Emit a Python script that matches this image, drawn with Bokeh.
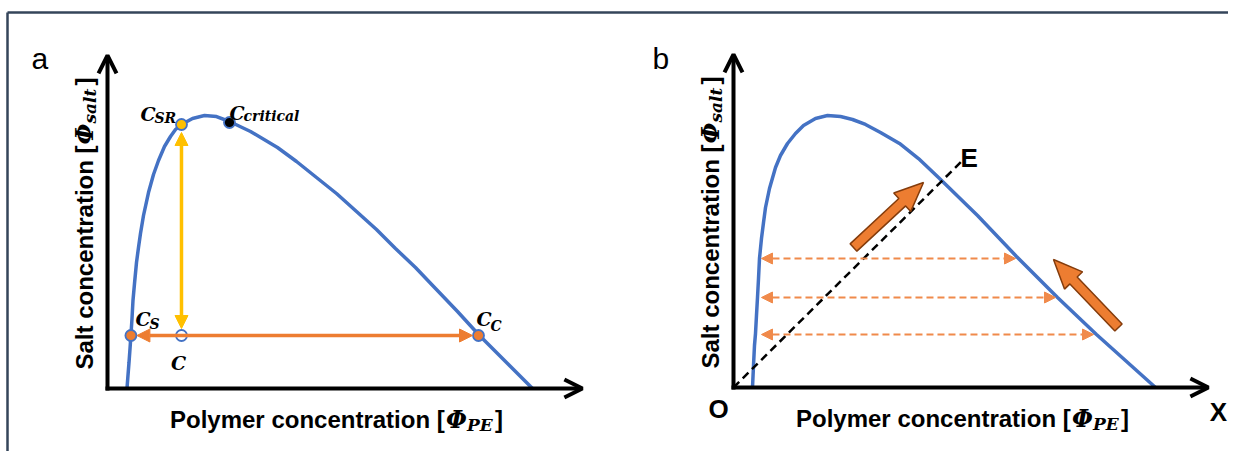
import numpy as np
from bokeh.plotting import figure
from bokeh.models import Range1d, Arrow, NormalHead, OpenHead, ColumnDataSource
from bokeh.core.properties import value
from bokeh.embed import file_html
from bokeh.resources import INLINE

# ---------------- data (normalised schematic units) ----------------
# panel a: binodal curve
binodal_a_pe = [0.0460, 0.0483, 0.0507, 0.0531, 0.0552, 0.0578, 0.0601, 0.0637, 0.0684, 0.0731,
                0.0778, 0.0849, 0.0967, 0.1085, 0.1203, 0.1344, 0.1486, 0.1604, 0.1745, 0.2005,
                0.2288, 0.2571, 0.2877, 0.3373, 0.4009, 0.4458, 0.4929, 0.5401, 0.5873, 0.6344,
                0.6792, 0.7264, 0.7736, 0.8255, 0.8750, 0.9387, 1.0024]
binodal_a_salt = [0.0, 0.0476, 0.0952, 0.1465, 0.1941, 0.2564, 0.3223, 0.3846, 0.4615, 0.5165,
                  0.5678, 0.6337, 0.7179, 0.7839, 0.8352, 0.8864, 0.9231, 0.9487, 0.9670, 0.9890,
                  1.0, 0.9963, 0.9780, 0.9414, 0.8828, 0.8315, 0.7729, 0.7143, 0.6484, 0.5824,
                  0.5128, 0.4432, 0.3663, 0.2821, 0.1978, 0.0989, 0.0]
# panel b: binodal curve
binodal_b_pe = [0.0448, 0.0472, 0.0495, 0.0519, 0.0542, 0.0566, 0.0590, 0.0613, 0.0660, 0.0708,
                0.0755, 0.0849, 0.0991, 0.1108, 0.1274, 0.1462, 0.1651, 0.1934, 0.2217, 0.2524,
                0.2807, 0.3113, 0.3467, 0.3915, 0.4363, 0.4835, 0.5755, 0.6675, 0.7642, 0.8561,
                0.9953]
binodal_b_salt = [0.0, 0.0806, 0.1538, 0.1978, 0.2637, 0.3297, 0.3993, 0.4725, 0.5458, 0.6044,
                  0.6593, 0.7289, 0.8059, 0.8498, 0.8938, 0.9304, 0.9597, 0.9853, 0.9963, 0.9927,
                  0.9817, 0.9634, 0.9341, 0.8938, 0.8388, 0.7692, 0.6300, 0.4799, 0.3297, 0.1941,
                  0.0]

# panel a: marked compositions
point_names = ["C_S", "C", "C_C", "C_SR", "C_critical"]
point_pe = [0.0552, 0.1745, 0.875, 0.1745, 0.2877]
point_salt = [0.1941, 0.1941, 0.1941, 0.967, 0.9744]
label_main = ["C", "C", "C", "C", "C"]
label_sub = ["S", "", "C", "SR", "critical"]

# panel b: tie lines, dilution line, direction arrows
tie_salt = [0.4725, 0.3297, 0.1941]
tie_pe_left = [0.066, 0.066, 0.066]
tie_pe_right = [0.6651, 0.7594, 0.8491]
dilution_pe = [0.0, 0.5401]
dilution_salt = [0.0, 0.8315]
block_tail_pe = [0.283, 0.908]
block_tail_salt = [0.5128, 0.2198]
block_tip_pe = [0.4481, 0.7547]
block_tip_salt = [0.7509, 0.4689]

x_label_parts = ["Polymer concentration [", "\u03a6", "PE", "]"]
y_label_parts = ["Salt concentration [", "\u03a6", "salt", "]"]
panel_letters = ["a", "b"]

# ---------------- layout constants ----------------
W, H = 1228, 451
SX, SY = 424.0, 273.0
ORIGIN = {"a": (107.0, 388.0), "b": (733.0, 387.0)}
AXIS_PE_MAX, AXIS_SALT_MAX = 1.12, 1.22
RN = {"a": "default", "b": "b"}

BLUE = "#4472C4"
ORANGE = "#ED7D31"
YELLOW = "#FFC000"
BROWN = "#843C0C"
DASH_ORANGE = "#F08A4B"
SANS = value("Liberation Sans")
SERIF = value("DejaVu Serif")


def ranges(panel):
    ox, oy = ORIGIN[panel]
    return Range1d(-ox / SX, (W - ox) / SX), Range1d((oy - H) / SY, oy / SY)


def to_data(panel, lx, ly):
    ox, oy = ORIGIN[panel]
    return (lx - ox) / SX, (oy - ly) / SY


def shorten(x0, y0, x1, y1, d0, d1):
    dx, dy = (x1 - x0) * SX, (y1 - y0) * SY
    L = np.hypot(dx, dy)
    ux, uy = dx / L, dy / L
    return (x0 + ux * d0 / SX, y0 + uy * d0 / SY, x1 - ux * d1 / SX, y1 - uy * d1 / SY)


def block_arrow(tx, ty, hx, hy, shaft=10.0, head_w=25.0, head_l=29.0):
    dx, dy = (hx - tx) * SX, (hy - ty) * SY
    L = np.hypot(dx, dy)
    ux, uy = dx / L, dy / L
    nx, ny = -uy, ux
    bx, by = dx - ux * head_l, dy - uy * head_l
    pts = [
        (nx * shaft / 2, ny * shaft / 2),
        (bx + nx * shaft / 2, by + ny * shaft / 2),
        (bx + nx * head_w / 2, by + ny * head_w / 2),
        (dx, dy),
        (bx - nx * head_w / 2, by - ny * head_w / 2),
        (bx - nx * shaft / 2, by - ny * shaft / 2),
        (-nx * shaft / 2, -ny * shaft / 2),
    ]
    return [tx + q[0] / SX for q in pts], [ty + q[1] / SY for q in pts]


xa, ya = ranges("a")
xb, yb = ranges("b")
p = figure(width=W, height=H, x_range=xa, y_range=ya, output_backend="svg",
           toolbar_location=None, min_border=0, x_axis_type=None, y_axis_type=None,
           outline_line_color=None, background_fill_color="white", border_fill_color="white")
p.extra_x_ranges = {"b": xb}
p.extra_y_ranges = {"b": yb}
p.xgrid.visible = False
p.ygrid.visible = False

# frame lines of the figure (top and left)
bx0, by0 = to_data("a", 7, 12)
bx1, _ = to_data("a", W, 12)
_, by1 = to_data("a", 7, H)
p.line([bx0, bx1], [by0, by0], line_color="#34455A", line_width=2.5)
p.line([bx0, bx0], [by0, by1], line_color="#34455A", line_width=2.5)

for panel in ["a", "b"]:
    kw = dict(x_range_name=RN[panel], y_range_name=RN[panel])
    # axes with arrow heads
    p.add_layout(Arrow(end=OpenHead(size=18, line_width=4, line_color="black"),
                       x_start=0, y_start=-2 / SY, x_end=0, y_end=AXIS_SALT_MAX,
                       line_width=4, line_color="black", **kw))
    p.add_layout(Arrow(end=OpenHead(size=18, line_width=4, line_color="black"),
                       x_start=-2 / SX, y_start=0, x_end=AXIS_PE_MAX, y_end=0,
                       line_width=4, line_color="black", **kw))
    ox, oy = ORIGIN[panel]
    # x label pieces
    ax, ay = to_data(panel, ox + 62.5, oy + 31)
    p.text(x=[ax], y=[ay], text=[x_label_parts[0]], text_font=SANS, text_font_style="bold",
           text_font_size="24px", text_align="left", text_baseline="alphabetic", **kw)
    p.text(x=[ax], y=[ay], text=[x_label_parts[1]], x_offset=276, text_font=SERIF,
           text_font_style="bold italic", text_font_size="24px", text_baseline="alphabetic", **kw)
    p.text(x=[ax], y=[ay], text=[x_label_parts[2]], x_offset=297, y_offset=5, text_font=SERIF,
           text_font_style="bold italic", text_font_size="17px", text_baseline="alphabetic", **kw)
    p.text(x=[ax], y=[ay], text=[x_label_parts[3]], x_offset=325, text_font=SANS,
           text_font_style="bold", text_font_size="24px", text_baseline="alphabetic", **kw)
    # y label pieces (rotated)
    yx, yy = to_data(panel, ox - 23, oy - 19)
    rot = np.pi / 2
    p.text(x=[yx], y=[yy], text=[y_label_parts[0]], angle=rot, text_font=SANS, text_font_style="bold",
           text_font_size="24px", text_align="left", text_baseline="alphabetic", **kw)
    p.text(x=[yx], y=[yy], text=[y_label_parts[1]], angle=rot, y_offset=-225, text_font=SERIF,
           text_font_style="bold italic", text_font_size="24px", text_baseline="alphabetic", **kw)
    p.text(x=[yx], y=[yy], text=[y_label_parts[2]], angle=rot, y_offset=-246, x_offset=5,
           text_font=SERIF, text_font_style="bold italic", text_font_size="17px",
           text_baseline="alphabetic", **kw)
    p.text(x=[yx], y=[yy], text=[y_label_parts[3]], angle=rot, y_offset=-284, text_font=SANS,
           text_font_style="bold", text_font_size="24px", text_baseline="alphabetic", **kw)

# panel letters
la = to_data("a", 31, 58)
lb = to_data("b", 652, 58)
p.text(x=[la[0]], y=[la[1]], text=[panel_letters[0]], text_font=SANS, text_font_size="30px",
       text_baseline="alphabetic")
p.text(x=[lb[0]], y=[lb[1]], text=[panel_letters[1]], text_font=SANS, text_font_size="30px",
       text_baseline="alphabetic", x_range_name="b", y_range_name="b")

# ---------------- panel a ----------------
p.line(binodal_a_pe, binodal_a_salt, line_color=BLUE, line_width=3.5)
iS, iC, iCC, iSR, iCR = 0, 1, 2, 3, 4
# orange tie-line arrow C_S <-> C_C
xs0, ys0, xs1, ys1 = shorten(point_pe[iS], point_salt[iS], point_pe[iCC], point_salt[iCC], 6, 6)
p.add_layout(Arrow(start=NormalHead(size=13, fill_color=ORANGE, line_color=ORANGE, line_width=1),
                   end=NormalHead(size=13, fill_color=ORANGE, line_color=ORANGE, line_width=1),
                   x_start=xs0, y_start=ys0, x_end=xs1, y_end=ys1,
                   line_color=ORANGE, line_width=3.5))
# yellow arrow C <-> C_SR
xs0, ys0, xs1, ys1 = shorten(point_pe[iC], point_salt[iC], point_pe[iSR], point_salt[iSR], 7, 8)
p.add_layout(Arrow(start=NormalHead(size=13, fill_color=YELLOW, line_color=YELLOW, line_width=1),
                   end=NormalHead(size=13, fill_color=YELLOW, line_color=YELLOW, line_width=1),
                   x_start=xs0, y_start=ys0, x_end=xs1, y_end=ys1,
                   line_color=YELLOW, line_width=3.5))
point_fill = [ORANGE, "white", ORANGE, YELLOW, "black"]
src_pts = ColumnDataSource(dict(x=point_pe, y=point_salt, fill=point_fill, name=point_names))
p.scatter("x", "y", source=src_pts, size=11, fill_color="fill", line_color=BLUE, line_width=1.8)

main_dx = [4.6, -3, -2, -41, 0]
main_dy = [-17, 27, -17, -11, -9]
main_align = ["left", "center", "left", "left", "left"]
sub_dx = [18.6, 0, 12, -27, 14]
sub_dy = [-12, 0, -10, -7, -6]
p.text(x=point_pe, y=point_salt, text=label_main, x_offset=main_dx, y_offset=main_dy,
       text_align=main_align, text_baseline="alphabetic", text_font=SERIF,
       text_font_style="bold italic", text_font_size="19px", text_color="black")
p.text(x=point_pe, y=point_salt, text=label_sub, x_offset=sub_dx, y_offset=sub_dy,
       text_align="left", text_baseline="alphabetic", text_font=SERIF,
       text_font_style="bold italic", text_font_size="14px", text_color="black")

# ---------------- panel b ----------------
kb = dict(x_range_name="b", y_range_name="b")
p.line(binodal_b_pe, binodal_b_salt, line_color=BLUE, line_width=3.5, **kb)
p.line(dilution_pe, dilution_salt, line_color="black", line_width=2.5, line_dash="8 5", **kb)
tie_src = ColumnDataSource(dict(x0=tie_pe_left, y0=tie_salt, x1=tie_pe_right, y1=tie_salt))
p.add_layout(Arrow(start=NormalHead(size=11, fill_color=DASH_ORANGE, line_color=DASH_ORANGE, line_width=1),
                   end=NormalHead(size=11, fill_color=DASH_ORANGE, line_color=DASH_ORANGE, line_width=1),
                   x_start="x0", y_start="y0", x_end="x1", y_end="y1", source=tie_src,
                   line_color=DASH_ORANGE, line_width=2, line_dash="7 4", **kb))
for i in range(len(block_tail_pe)):
    bxs, bys = block_arrow(block_tail_pe[i], block_tail_salt[i], block_tip_pe[i], block_tip_salt[i])
    p.patch(bxs, bys, fill_color=ORANGE, line_color=BROWN, line_width=1.5, **kb)

p.text(x=[dilution_pe[1]], y=[dilution_salt[1]], text=["E"], x_offset=-2, y_offset=-3,
       text_font=SANS, text_font_style="bold", text_font_size="26px",
       text_align="left", text_baseline="alphabetic", **kb)
p.text(x=[0], y=[0], text=["O"], x_offset=-15, y_offset=21, text_font=SANS,
       text_font_style="bold", text_font_size="26px", text_align="center",
       text_baseline="alphabetic", **kb)
p.text(x=[AXIS_PE_MAX], y=[0], text=["X"], x_offset=10, y_offset=24, text_font=SANS,
       text_font_style="bold", text_font_size="26px", text_align="center",
       text_baseline="alphabetic", **kb)

open("out.html", "w").write(file_html(p, INLINE))
